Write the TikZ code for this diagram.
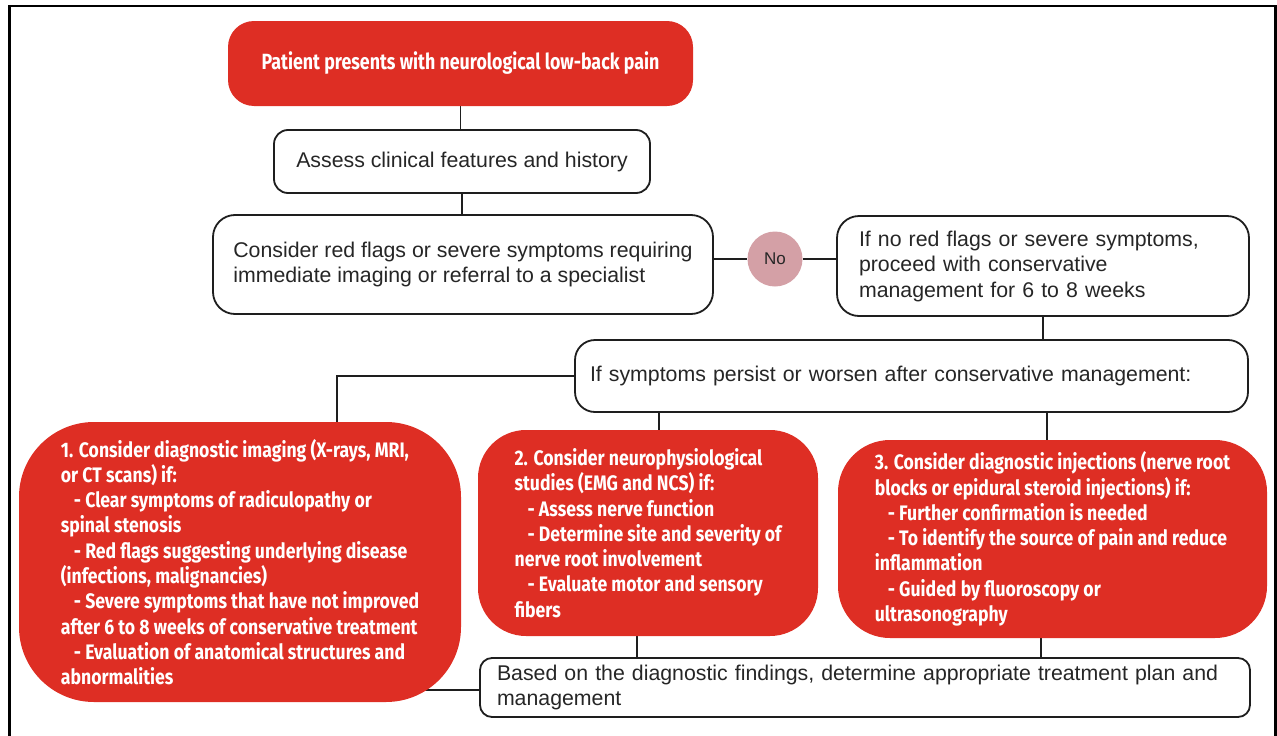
\documentclass[tikz,border=0pt]{standalone}
\usepackage{fontspec}
\setmainfont{Liberation Sans}
\newfontfamily\redfont[FakeStretch=0.84]{Fira Sans}
\newfontfamily\titlefont[FakeStretch=0.81]{Fira Sans}
\usetikzlibrary{backgrounds}

\definecolor{flowred}{HTML}{DE2E24}
\definecolor{nopink}{HTML}{D4A0A6}
\definecolor{edgegray}{HTML}{1E1E1E}
\definecolor{inkgray}{HTML}{262626}

\tikzset{
  plainbox/.style={draw=edgegray, line width=1.8pt, fill=white, align=left,
    inner sep=0pt, text=inkgray, font=\fontsize{21.3}{25.5}\selectfont},
  redbox/.style={fill=flowred, text=white, align=left, inner sep=0pt,
    font=\redfont\bfseries\fontsize{21}{25.3}\selectfont},
  link/.style={draw=edgegray, line width=1.8pt},
  dotnode/.style={circle, fill=nopink, minimum size=55pt, inner sep=0pt,
    text=inkgray, font=\fontsize{17}{19}\selectfont},
}
\newcommand{\ind}{\hspace*{13pt}}

\begin{document}
\begin{tikzpicture}[x=1pt, y=-1pt]
\useasboundingbox (0,0) rectangle (1277,736);

% outer frame (open at the bottom edge of the page)
\draw[line width=2.7pt, black] (9.5,740) -- (9.5,6) -- (1275.5,6) -- (1275.5,740);

% top row
\node[redbox, align=center, minimum width=465pt, minimum height=85pt,
      rounded corners=26pt, font=\titlefont\bfseries\fontsize{22}{26}\selectfont]
  (top) at (460.5,63.5) {Patient presents with neurological low-back pain};

\node[plainbox, align=center, minimum width=376pt, minimum height=63pt,
      rounded corners=14pt] (assess) at (462,161.5)
  {Assess clinical features and history};

\node[plainbox, minimum width=500pt, minimum height=99pt, rounded corners=22pt]
  (redflags) at (463,264.5)
  {Consider red flags or severe symptoms requiring\\
   immediate imaging or referral to a specialist};

\node[dotnode] (no) at (775,259) {No};

\node[plainbox, text width=368pt, minimum width=412pt, minimum height=100pt,
      rounded corners=22pt] (noflags) at (1043,266)
  {If no red flags or severe symptoms,\\
   proceed with conservative\\
   management for 6 to 8 weeks};

\node[plainbox, text width=643pt, minimum width=673pt, minimum height=72pt,
      rounded corners=20pt] (persist) at (911.5,376)
  {If symptoms persist or worsen after conservative management:};

% the three diagnostic options
\node[redbox, minimum width=442pt, minimum height=280pt, rounded corners=75pt]
  (red1) at (240,562)
  {1. Consider diagnostic imaging (X-rays, MRI,\\
   or CT scans) if:\\
   \ind- Clear symptoms of radiculopathy or\\
   spinal stenosis\\
   \ind- Red flags suggesting underlying disease\\
   (infections, malignancies)\\
   \ind- Severe symptoms that have not improved\\
   after 6 to 8 weeks of conservative treatment\\
   \ind- Evaluation of anatomical structures and\\
   abnormalities};

\node[redbox, minimum width=340pt, minimum height=206pt, rounded corners=48pt]
  (red2) at (648,533)
  {2. Consider neurophysiological\\
   studies (EMG and NCS) if:\\
   \ind- Assess nerve function\\
   \ind- Determine site and severity of\\
   nerve root involvement\\
   \ind- Evaluate motor and sensory\\
   fibers};

\node[redbox, minimum width=429pt, minimum height=198pt, rounded corners=52pt]
  (red3) at (1052.5,539)
  {3. Consider diagnostic injections (nerve root\\
   blocks or epidural steroid injections) if:\\
   \ind- Further confirmation is needed\\
   \ind- To identify the source of pain and reduce\\
   inflammation\\
   \ind- Guided by fluoroscopy or\\
   ultrasonography};

\node[plainbox, text width=736pt, minimum width=770pt, minimum height=59pt,
      rounded corners=12pt] (bottom) at (865,687.5)
  {Based on the diagnostic findings, determine appropriate treatment plan and\\
   management};

% drop points of the connectors
\coordinate (elbow) at (337,376);
\coordinate (c2) at (659,0);
\coordinate (c3) at (1047,0);
\coordinate (c4) at (637,0);
\coordinate (c5) at (1041,0);
\coordinate (c6) at (0,690);

\begin{scope}[on background layer]
  \draw[link] (top.south) -- (top.south |- assess.north);
  \draw[link] (assess.south) -- (assess.south |- redflags.north);
  \draw[link] (redflags.east |- no.west) -- (no.west);
  \draw[link] (no.east) -- (noflags.west |- no.east);
  \draw[link] (noflags.south) -- (noflags.south |- persist.north);
  \draw[link] (persist.west) -- (elbow) -- (elbow |- red1.north);
  \draw[link] (persist.south -| c2) -- (red2.north -| c2);
  \draw[link] (persist.south -| c3) -- (red3.north -| c3);
  \draw[link] (red2.south -| c4) -- (bottom.north -| c4);
  \draw[link] (red3.south -| c5) -- (bottom.north -| c5);
  \draw[link] (red1.center |- c6) -- (bottom.west |- c6);
\end{scope}
\end{tikzpicture}
\end{document}
